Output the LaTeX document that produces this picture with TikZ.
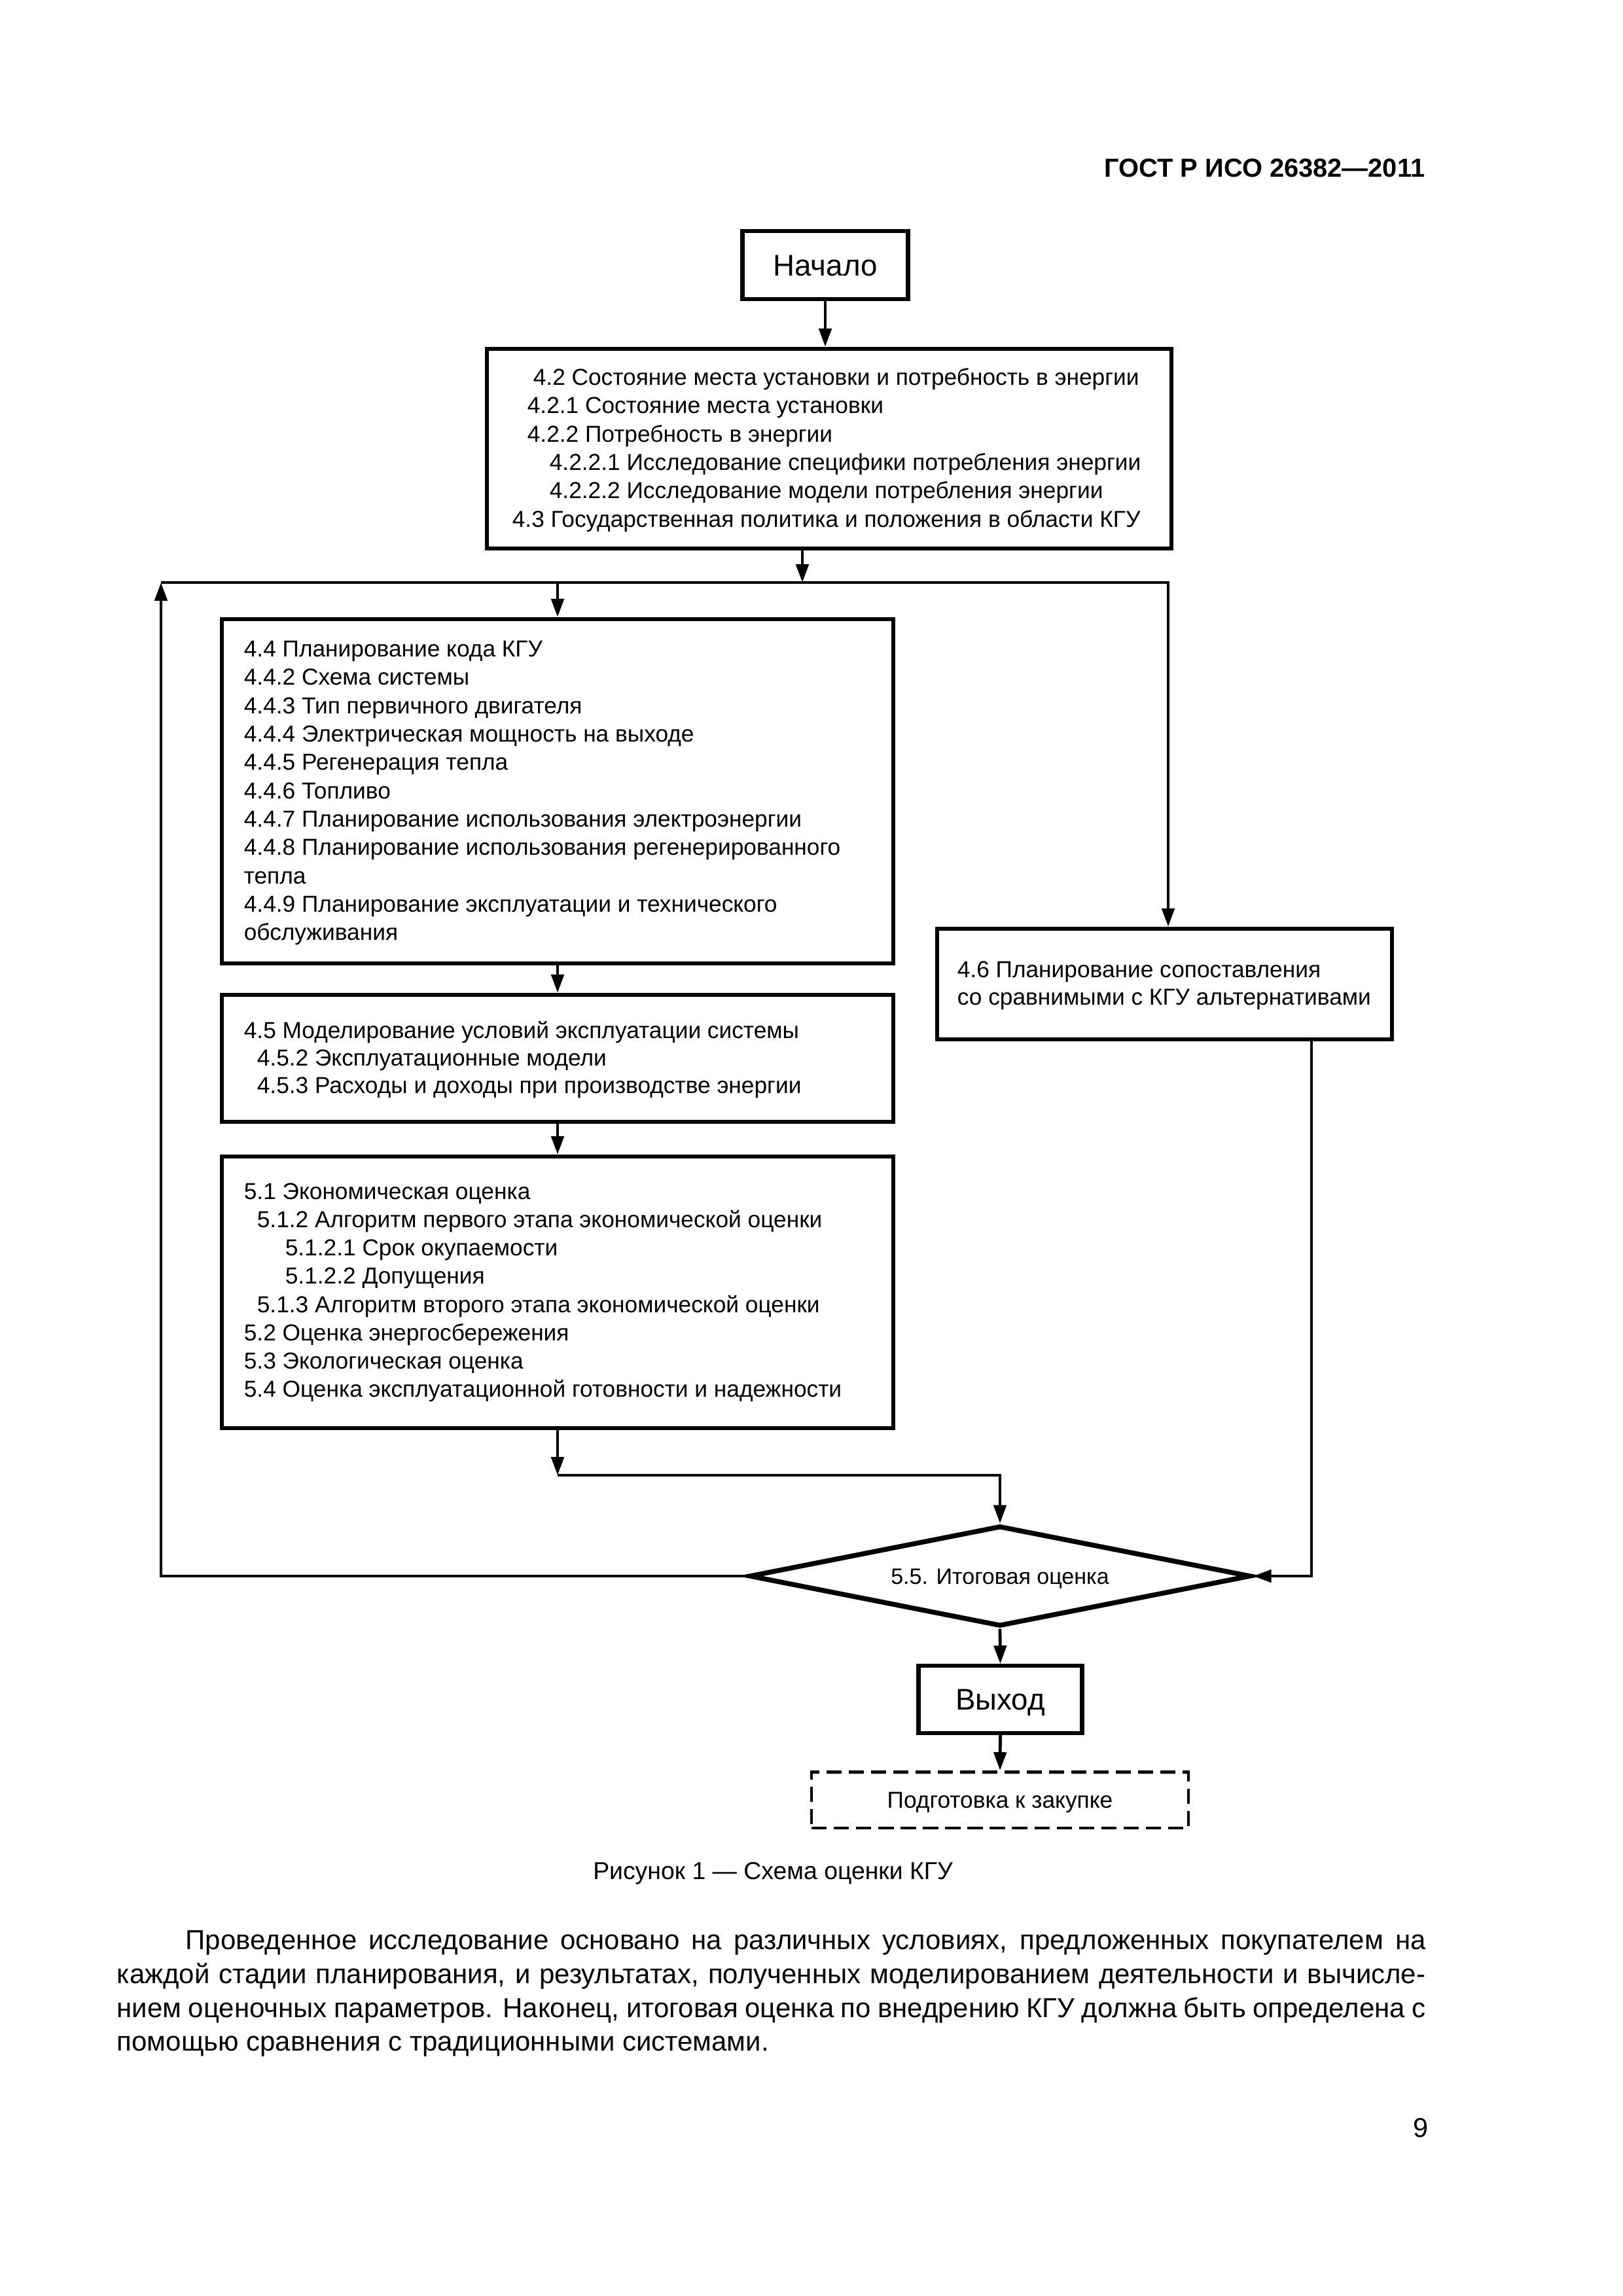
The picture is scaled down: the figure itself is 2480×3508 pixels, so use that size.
\documentclass[tikz,border=0pt]{standalone}
\usepackage{fontspec}
\setmainfont{Liberation Sans}
\usetikzlibrary{arrows.meta,fit,shapes.geometric}
\begin{document}
\begin{tikzpicture}[x=0.0846774mm,y=-0.0846774mm,
  box/.style={draw, line width=1.55pt, inner sep=0pt},
  conn/.style={line width=1.15pt},
  arr/.style={conn, -{Triangle[length=6.7pt,width=4.6pt]}},
  ln/.style={anchor=west, inner sep=0pt, text height=6.1pt, text depth=0pt, font=\fontsize{8.5}{10}\selectfont},
  big/.style={font=\fontsize{11}{13}\selectfont, text height=7.9pt, text depth=0pt},
  ]
\useasboundingbox (0,0) rectangle (2480,3508);

% header
\node[anchor=base east, inner sep=0pt, font=\bfseries\fontsize{9.6}{11}\selectfont] (hdr) at (2178,270) {ГОСТ Р ИСО 26382—2011};

% boxes
\node[box, big, minimum width=61pt, minimum height=25pt] (nach) at (1261,405) {Начало};
\node[box, fit={(744,533) (1790,838)}] (b42) {};
\node[box, fit={(339,946) (1365,1472)}] (b44) {};
\node[box, fit={(339,1520) (1365,1714)}] (b45) {};
\node[box, fit={(339,1767) (1365,2182)}] (b51) {};
\node[box, fit={(1432,1419) (2127,1588)}] (b46) {};
\node[draw, diamond, shape aspect=5, line width=1.8pt, inner sep=0pt,
      minimum width=184.6pt, minimum height=37pt, text height=5.9pt, text depth=0pt,
      font=\fontsize{8.2}{10}\selectfont] (dia) at (1528,2408) {5.5. Итоговая оценка};
\node[box, big, minimum width=60.25pt, minimum height=24.7pt] (vyh) at (1528.5,2596.5) {Выход};
\node[draw, line width=1.1pt, dash pattern=on 5.6pt off 2.6pt, inner sep=0pt,
      minimum width=138.7pt, minimum height=20.6pt, text height=6.1pt, text depth=0pt,
      font=\fontsize{8.5}{10}\selectfont] (podg) at (1528,2750) {Подготовка к закупке};

% texts of 4.2
\foreach \xx/\yy/\t [count=\i] in {
  814/576/{4.2 Состояние места установки и потребность в энергии},
  805/619/{4.2.1 Состояние места установки},
  805/663/{4.2.2 Потребность в энергии},
  839/706/{4.2.2.1 Исследование специфики потребления энергии},
  839/749/{4.2.2.2 Исследование модели потребления энергии},
  782/793/{4.3 Государственная политика и положения в области КГУ}}
  \node[ln] (t42-\i) at (\xx,\yy) {\t};

% texts of 4.4
\foreach \t [count=\i from 0] in {
  {4.4 Планирование кода КГУ},
  {4.4.2 Схема системы},
  {4.4.3 Тип первичного двигателя},
  {4.4.4 Электрическая мощность на выходе},
  {4.4.5 Регенерация тепла},
  {4.4.6 Топливо},
  {4.4.7 Планирование использования электроэнергии},
  {4.4.8 Планирование использования регенерированного},
  {тепла},
  {4.4.9 Планирование эксплуатации и технического},
  {обслуживания}}
  \node[ln] (t44-\i) at (372,991+43.3*\i) {\t};

% texts of 4.5
\foreach \xx/\yy/\t [count=\i] in {
  372/1574/{4.5 Моделирование условий эксплуатации системы},
  392/1616/{4.5.2 Эксплуатационные модели},
  392/1658/{4.5.3 Расходы и доходы при производстве энергии}}
  \node[ln] (t45-\i) at (\xx,\yy) {\t};

% texts of 5.1
\foreach \xx/\t [count=\i from 0] in {
  372/{5.1 Экономическая оценка},
  392/{5.1.2 Алгоритм первого этапа экономической оценки},
  435/{5.1.2.1 Срок окупаемости},
  435/{5.1.2.2 Допущения},
  392/{5.1.3 Алгоритм второго этапа экономической оценки},
  372/{5.2 Оценка энергосбережения},
  372/{5.3 Экологическая оценка},
  372/{5.4 Оценка эксплуатационной готовности и надежности}}
  \node[ln] (t51-\i) at (\xx,1820+43.1*\i) {\t};

% texts of 4.6
\node[ln] (t46-1) at (1462,1481) {4.6 Планирование сопоставления};
\node[ln] (t46-2) at (1462,1523) {со сравнимыми с КГУ альтернативами};

% connector points
\coordinate (j1) at (1226,890);
\coordinate (tl) at (246,890);
\coordinate (tr) at (1785,890);
\coordinate (j2) at (853,2254);
\coordinate (rc) at (2004,2408);

% connectors
\draw[arr] (nach.south) -- (nach.south |- b42.north);
\draw[arr] (b42.south -| j1) -- (j1);
\draw[arr] (tl) -- (tr) -- (tr |- b46.north);
\draw[arr] (b44.north |- tl) -- (b44.north);
\draw[arr] (b44.south) -- (b45.north);
\draw[arr] (b45.south) -- (b51.north);
\draw[arr] (b51.south) -- (b51.south |- j2);
\draw[arr] (b51.south |- j2) -- (dia.north |- j2) -- (dia.north);
\draw[arr] (dia.west) -- (dia.west -| tl) -- (tl);
\draw[arr] (b46.south -| rc) -- (rc) -- (dia.east);
\draw[arr] (dia.south) -- (vyh.north);
\draw[arr] (vyh.south) -- (podg.north);

% caption
\node[anchor=base, inner sep=0pt, font=\fontsize{9}{11}\selectfont] (cap) at (1181,2871) {Рисунок 1 — Схема оценки КГУ};

% body text
\node[anchor=base west, inner sep=0pt, font=\fontsize{10.1}{12}\selectfont] (p1) at (283,2978)
  {\makebox[456.5pt][s]{Проведенное исследование основано на различных условиях, предложенных покупателем на}};
\node[anchor=base west, inner sep=0pt, font=\fontsize{10.1}{12}\selectfont] (p2) at (178,3030)
  {\makebox[481.7pt][s]{каждой стадии планирования, и результатах, полученных моделированием деятельности и вычисле-}};
\node[anchor=base west, inner sep=0pt, font=\fontsize{10.1}{12}\selectfont] (p3) at (178,3082)
  {\makebox[481.7pt][s]{нием оценочных параметров. Наконец, итоговая оценка по внедрению КГУ должна быть определена с}};
\node[anchor=base west, inner sep=0pt, font=\fontsize{10.1}{12}\selectfont] (p4) at (178,3133)
  {помощью сравнения с традиционными системами.};

% page number
\node[anchor=base east, inner sep=0pt, font=\fontsize{10}{12}\selectfont] (pg) at (2183,3265) {9};
\end{tikzpicture}
\end{document}
